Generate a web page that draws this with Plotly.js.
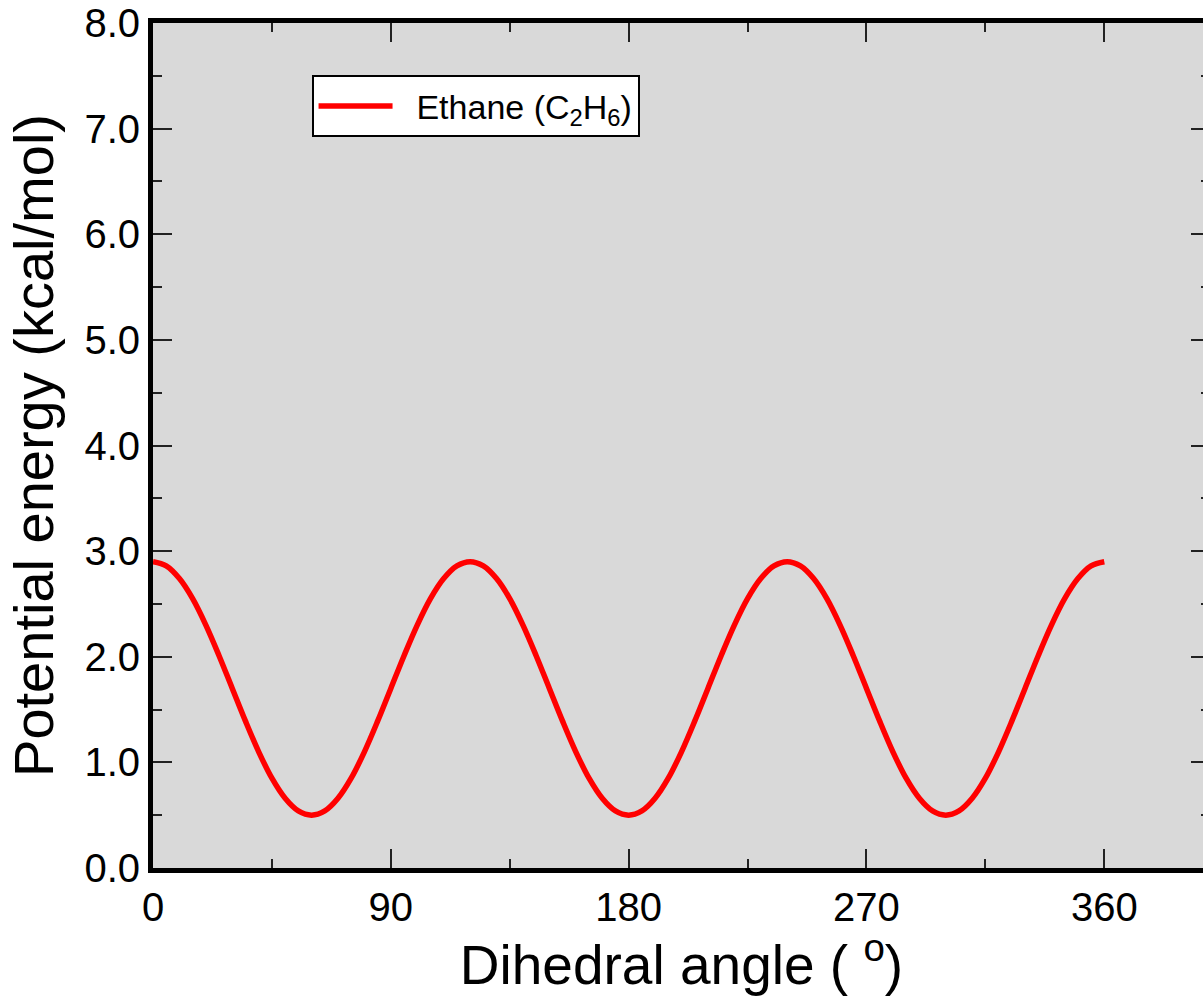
<!DOCTYPE html>
<html>
<head>
<meta charset="utf-8">
<script src="https://cdn.plot.ly/plotly-3.0.1.min.js"></script>
<style>
html, body { margin: 0; padding: 0; width: 1203px; height: 996px; overflow: hidden; background: #fff; }
#chart { width: 1212px; height: 996px; }
</style>
</head>
<body>
<div id="chart"></div>
<script>
// Dihedral angle (degrees)
const angles = [0,5,10,15,20,25,30,35,40,45,50,55,60,65,70,75,80,85,90,95,100,105,110,115,120,
  125,130,135,140,145,150,155,160,165,170,175,180,185,190,195,200,205,210,215,220,225,230,235,240,
  245,250,255,260,265,270,275,280,285,290,295,300,305,310,315,320,325,330,335,340,345,350,355,360];
// Potential energy (kcal/mol)
const energy = [2.90,2.86,2.74,2.55,2.30,2.01,1.70,1.39,1.10,0.85,0.66,0.54,0.50,0.54,0.66,0.85,1.10,1.39,1.70,2.01,2.30,2.55,2.74,2.86,2.90,
  2.86,2.74,2.55,2.30,2.01,1.70,1.39,1.10,0.85,0.66,0.54,0.50,0.54,0.66,0.85,1.10,1.39,1.70,2.01,2.30,2.55,2.74,2.86,2.90,
  2.86,2.74,2.55,2.30,2.01,1.70,1.39,1.10,0.85,0.66,0.54,0.50,0.54,0.66,0.85,1.10,1.39,1.70,2.01,2.30,2.55,2.74,2.86,2.90];
const seriesName = '\u00A0\u00A0Ethane (C<sub>2</sub>H<sub>6</sub>)';
const xTickVals = [0, 90, 180, 270, 360];
const yTickVals = [0, 1, 2, 3, 4, 5, 6, 7, 8];

const font = 'Liberation Sans, Arial, Helvetica, sans-serif';

const trace = {
  x: angles, y: energy, type: 'scatter', mode: 'lines', name: seriesName,
  line: { color: '#ff0000', width: 5.5, shape: 'spline' }
};

const axisCommon = {
  showline: true, linecolor: '#000', linewidth: 5, mirror: 'allticks',
  ticks: 'inside', ticklen: 19, tickwidth: 2, tickcolor: '#222',
  showgrid: false, zeroline: false,
  tickfont: { family: font, size: 40, color: '#000' }
};

const layout = {
  width: 1212, height: 996,
  margin: { l: 153, r: 2, t: 23, b: 128 },
  paper_bgcolor: '#ffffff', plot_bgcolor: '#d9d9d9',
  showlegend: true,
  legend: {
    x: 0.150, y: 0.938, xanchor: 'left', yanchor: 'top',
    bgcolor: '#ffffff', bordercolor: '#000', borderwidth: 2,
    font: { family: font, size: 34, color: '#000' },
    itemwidth: 74
  },
  xaxis: Object.assign({}, axisCommon, {
    range: [0, 400], tickvals: xTickVals,
    minor: { ticks: 'inside', ticklen: 9, tickwidth: 2, tickcolor: '#222', dtick: 45, tick0: 0 },
    title: { text: 'Dihedral angle ( <sup>o</sup>)', standoff: 4, font: { family: font, size: 55, color: '#000' } }
  }),
  yaxis: Object.assign({}, axisCommon, {
    range: [0, 8], tickvals: yTickVals, tickformat: '.1f',
    minor: { ticks: 'inside', ticklen: 9, tickwidth: 2, tickcolor: '#222', dtick: 0.5, tick0: 0 },
    title: { text: 'Potential energy (kcal/mol)', standoff: 14, font: { family: font, size: 56, color: '#000' } }
  })
};

Plotly.newPlot('chart', [trace], layout, { displayModeBar: false, staticPlot: true });
</script>
</body>
</html>
